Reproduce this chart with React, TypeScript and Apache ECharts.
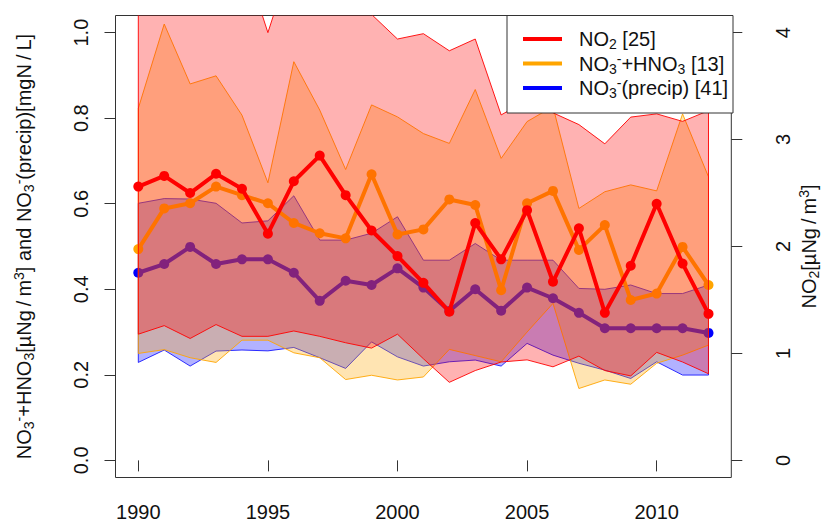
import React, { useEffect, useRef } from "react";
import * as echarts from "echarts";

const years = [1990, 1991, 1992, 1993, 1994, 1995, 1996, 1997, 1998, 1999, 2000, 2001, 2002, 2003, 2004, 2005, 2006, 2007, 2008, 2009, 2010, 2011, 2012];
const xTicks = [1990, 1995, 2000, 2005, 2010];
const leftTicks = [0, 0.2, 0.4, 0.6, 0.8, 1.0];
const rightTicks = [0, 1, 2, 3, 4];

// NO2 [µgN/m3] (right axis)
const no2Mean = [2.56, 2.66, 2.5, 2.68, 2.54, 2.12, 2.61, 2.85, 2.48, 2.15, 1.91, 1.66, 1.39, 2.22, 1.88, 2.34, 1.67, 2.17, 1.38, 1.82, 2.4, 1.84, 1.37];
const no2Upper = [4.6, 4.8, 4.7, 4.6, 4.75, 4.0, 4.75, 4.9, 4.5, 4.17, 3.94, 3.99, 3.83, 3.94, 3.23, 3.37, 3.25, 3.14, 2.96, 3.21, 3.24, 3.17, 3.27];
const no2Lower = [1.18, 1.26, 1.14, 1.27, 1.16, 1.16, 1.21, 1.16, 1.1, 1.05, 1.18, 0.95, 0.73, 0.84, 0.92, 0.94, 0.875, 0.975, 0.84, 0.79, 1.01, 0.92, 0.81];

// NO3- + HNO3 (left axis)
const airMean = [0.494, 0.589, 0.601, 0.64, 0.62, 0.601, 0.555, 0.531, 0.519, 0.669, 0.528, 0.54, 0.61, 0.597, 0.398, 0.601, 0.63, 0.492, 0.55, 0.375, 0.39, 0.499, 0.41];
const airUpper = [0.823, 1.02, 0.88, 0.899, 0.807, 0.649, 0.932, 0.819, 0.68, 0.831, 0.803, 0.764, 0.741, 0.867, 0.706, 0.792, 0.827, 0.589, 0.628, 0.644, 0.63, 0.81, 0.663];
const airLower = [0.25, 0.259, 0.24, 0.229, 0.281, 0.281, 0.2515, 0.24, 0.189, 0.199, 0.188, 0.195, 0.2595, 0.245, 0.2305, 0.3, 0.367, 0.168, 0.188, 0.178, 0.227, 0.246, 0.2695];

// NO3- (precip) (left axis)
const precMean = [0.4386, 0.459, 0.499, 0.459, 0.47, 0.47, 0.4386, 0.373, 0.42, 0.41, 0.449, 0.404, 0.349, 0.4, 0.35, 0.404, 0.379, 0.345, 0.309, 0.309, 0.309, 0.309, 0.298];
const precUpper = [0.601, 0.612, 0.611, 0.601, 0.555, 0.56, 0.6185, 0.515, 0.515, 0.531, 0.5695, 0.468, 0.468, 0.507, 0.468, 0.468, 0.468, 0.402, 0.4, 0.41, 0.39, 0.39, 0.41];
const precLower = [0.229, 0.258, 0.2205, 0.2555, 0.258, 0.256, 0.264, 0.24, 0.215, 0.277, 0.242, 0.2205, 0.2305, 0.2345, 0.2205, 0.2735, 0.246, 0.227, 0.211, 0.1915, 0.2305, 0.1995, 0.1995];

const seriesNames = ["NO2", "NO3HNO3", "NO3precip"];
const legendLabels = ["NO{sub|2} [25]", "NO{sub|3}{sup|-}+HNO{sub|3} [13]", "NO{sub|3}{sup|-}(precip) [41]"];
const leftTitle = "NO{sub|3}{sup|-}+HNO{sub|3}[µNg\u2009/\u2009m{sup|3}] and NO{sub|3}{sup|-}(precip)[mgN\u2009/\u2009L]";
const rightTitle = "NO{sub|2}[µNg\u2009/\u2009m{sup|3}]";

const FONT = "'Liberation Sans', Arial, Helvetica, sans-serif";

const rich = {
  sub: { fontSize: 14, lineHeight: 12, verticalAlign: "bottom", fontFamily: FONT, color: "#111" },
  sup: { fontSize: 14, lineHeight: 12, verticalAlign: "top", fontFamily: FONT, color: "#111" },
};

function band(name: string, upper: number[], lower: number[], yAxisIndex: number, fill: string, stroke: string, z: number) {
  return {
    type: "custom",
    name,
    yAxisIndex,
    z,
    clip: true,
    silent: true,
    data: [[years[0], lower[0]]],
    renderItem: (_params: any, api: any) => {
      const pts: number[][] = [];
      for (let i = 0; i < years.length; i++) pts.push(api.coord([years[i], upper[i]]));
      for (let i = years.length - 1; i >= 0; i--) pts.push(api.coord([years[i], lower[i]]));
      return { type: "polygon", shape: { points: pts }, style: { fill, stroke, lineWidth: 1 } };
    },
  };
}

function meanLine(name: string, values: number[], yAxisIndex: number, color: string, z: number) {
  return {
    type: "line",
    name,
    yAxisIndex,
    z,
    color,
    data: years.map((y, i) => [y, values[i]]),
    symbol: "circle",
    symbolSize: 10,
    showSymbol: true,
    lineStyle: { color, width: 4 },
    itemStyle: { color },
    clip: true,
    silent: true,
  };
}

export default function App() {
  const ref = useRef<HTMLDivElement>(null);
  useEffect(() => {
    if (!ref.current) return;
    const chart = echarts.init(ref.current, undefined, { renderer: "svg" });
    const axisCommon = {
      axisLine: { show: false },
      splitLine: { show: false },
    };
    chart.setOption({
      animation: false,
      backgroundColor: "#fff",
      textStyle: { fontFamily: FONT },
      grid: {
        left: 115.5, right: 91.7, top: 15.5, bottom: 44.5,
        containLabel: false, outerBoundsMode: "none",
        show: true, borderColor: "#333", borderWidth: 1, backgroundColor: "transparent",
      },
      xAxis: {
        type: "value",
        min: 1989.12,
        max: 2012.88,
        ...axisCommon,
        axisTick: { show: true, customValues: xTicks, length: 11, lineStyle: { color: "#333" } },
        axisLabel: { customValues: xTicks, margin: 24, fontSize: 20, lineHeight: 20, color: "#111", fontFamily: FONT, formatter: (v: number) => String(v) },
      },
      yAxis: [
        {
          type: "value",
          position: "left",
          min: -0.04,
          max: 1.04,
          ...axisCommon,
          name: leftTitle,
          nameLocation: "middle",
          nameRotate: 90,
          nameGap: 80,
          nameMoveOverlap: false,
          nameTextStyle: { fontSize: 20, color: "#111", fontFamily: FONT, lineHeight: 24, rich },
          axisTick: { show: true, customValues: leftTicks, length: 11, lineStyle: { color: "#333" } },
          axisLabel: { customValues: leftTicks, rotate: 90, margin: 25, fontSize: 20, color: "#111", fontFamily: FONT, formatter: (v: number) => v.toFixed(1) },
        },
        {
          type: "value",
          position: "right",
          min: -0.16,
          max: 4.16,
          ...axisCommon,
          name: rightTitle,
          nameLocation: "middle",
          nameRotate: 90,
          nameGap: 66,
          nameMoveOverlap: false,
          nameTextStyle: { fontSize: 20, color: "#111", fontFamily: FONT, lineHeight: 24, rich },
          axisTick: { show: true, customValues: rightTicks, length: 11, lineStyle: { color: "#333" } },
          axisLabel: { customValues: rightTicks, rotate: 90, margin: 42, fontSize: 20, color: "#111", fontFamily: FONT, formatter: (v: number) => String(v) },
        },
      ],
      legend: {
        data: seriesNames,
        orient: "vertical",
        left: 523,
        top: 27,
        itemWidth: 39,
        itemHeight: 4,
        itemGap: 0.5,
        icon: "rect",
        padding: 0,
        selectedMode: false,
        z: 20,
        formatter: (name: string) => legendLabels[seriesNames.indexOf(name)],
        textStyle: { fontSize: 20, color: "#111", fontFamily: FONT, lineHeight: 24, padding: [0, 0, 0, 12], rich },
      },
      graphic: [
        {
          type: "rect",
          z: 19,
          shape: { x: 507, y: 15.5, width: 226, height: 97.5 },
          style: { fill: "#fff", stroke: "#333", lineWidth: 1 },
        },
      ],
      series: [
        band("precBand", precUpper, precLower, 0, "rgba(0,0,255,0.3)", "rgba(0,0,255,0.8)", 1),
        meanLine("NO3precip", precMean, 0, "#0000FF", 2),
        band("airBand", airUpper, airLower, 0, "rgba(255,165,0,0.3)", "rgba(255,165,0,0.9)", 3),
        meanLine("NO3HNO3", airMean, 0, "#FFA500", 4),
        band("no2Band", no2Upper, no2Lower, 1, "rgba(255,0,0,0.3)", "rgba(255,0,0,0.9)", 5),
        meanLine("NO2", no2Mean, 1, "#FF0000", 6),
      ],
    });
    return () => chart.dispose();
  }, []);
  return <div ref={ref} style={{ position: "absolute", left: 0, top: 0, width: 823, height: 522 }} />;
}
